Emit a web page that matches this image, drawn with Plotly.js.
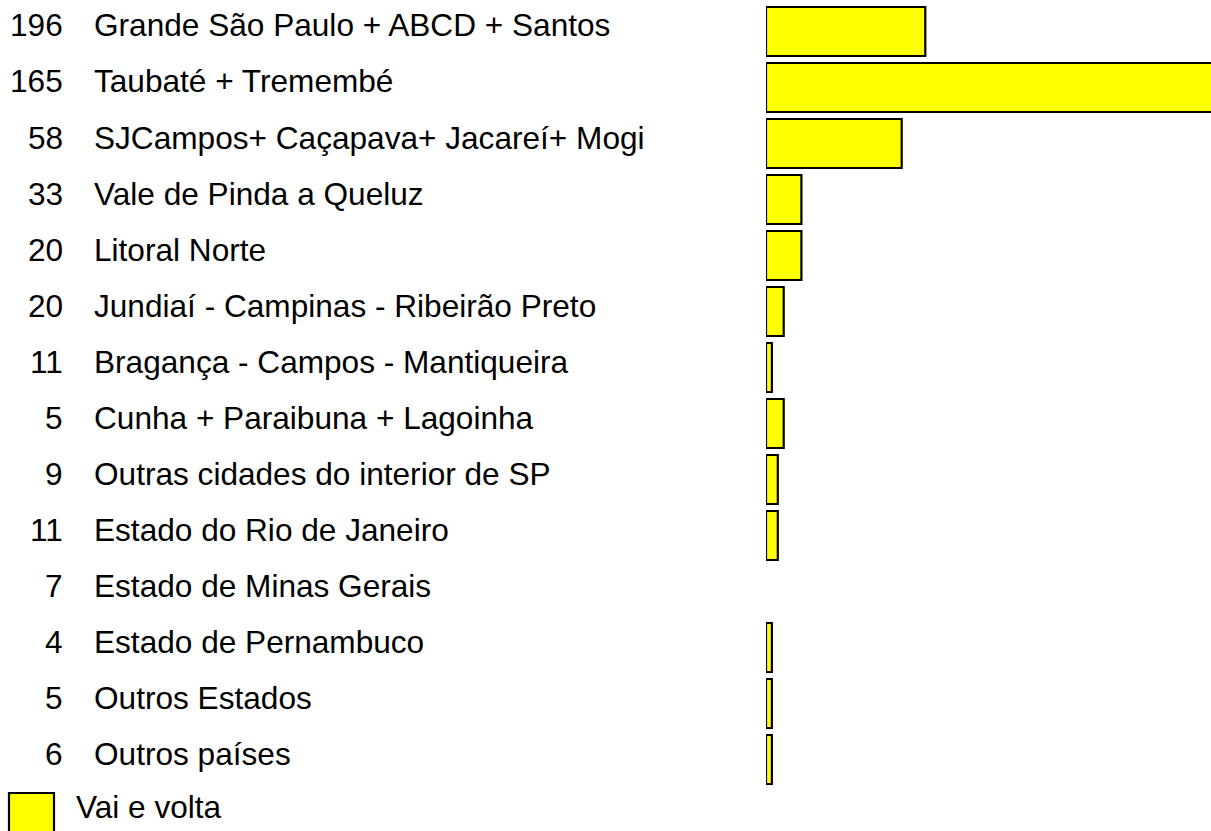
<!DOCTYPE html>
<html>
<head>
<meta charset="utf-8">
<script src="https://cdn.plot.ly/plotly-3.0.1.min.js"></script>
<style>html,body{margin:0;padding:0;background:#fff;}#chart{width:1211px;height:831px;}</style>
</head>
<body>
<div id="chart"></div>
<script>
// Category names (top to bottom)
const categories = [
  "Grande São Paulo + ABCD + Santos",
  "Taubaté + Tremembé",
  "SJCampos+ Caçapava+ Jacareí+ Mogi",
  "Vale de Pinda a Queluz",
  "Litoral Norte",
  "Jundiaí - Campinas - Ribeirão Preto",
  "Bragança - Campos - Mantiqueira",
  "Cunha + Paraibuna + Lagoinha",
  "Outras cidades do interior de SP",
  "Estado do Rio de Janeiro",
  "Estado de Minas Gerais",
  "Estado de Pernambuco",
  "Outros Estados",
  "Outros países"
];
// Numbers printed beside each category
const countLabels = [196, 165, 58, 33, 20, 20, 11, 5, 9, 11, 7, 4, 5, 6];
// Bar lengths ("Vai e volta")
const vaiEVolta = [27, 80, 23, 6, 6, 3, 1, 3, 2, 2, 0, 1, 1, 1];
const seriesName = "Vai e volta";

const W = 1211, H = 831;
const FONT = "Liberation Sans, Arial, Helvetica, sans-serif";
const FS = 31.6;

const trace = {
  type: "bar",
  orientation: "h",
  y: categories,
  x: vaiEVolta,
  name: seriesName,
  marker: {
    color: "#ffff00",
    line: {color: "#000000", width: vaiEVolta.map(v => v > 0 ? 2.2 : 0)}
  },
  hoverinfo: "x+y",
  showlegend: false
};

const annotations = [];
categories.forEach((c, i) => {
  annotations.push({
    xref: "paper", yref: "y", x: 65 / W, y: c,
    text: String(countLabels[i]), showarrow: false,
    xanchor: "right", yanchor: "middle", yshift: 6,
    font: {family: FONT, size: FS, color: "#000"}
  });
  annotations.push({
    xref: "paper", yref: "y", x: 92 / W, y: c,
    text: c, showarrow: false,
    xanchor: "left", yanchor: "middle", yshift: 6,
    font: {family: FONT, size: FS, color: "#000"}
  });
});
annotations.push({
  xref: "paper", yref: "paper", x: 74 / W, y: 1 - 807 / H,
  text: seriesName, showarrow: false,
  xanchor: "left", yanchor: "middle",
  font: {family: FONT, size: FS, color: "#000"}
});

const layout = {
  width: W, height: H,
  margin: {l: 0, r: 0, t: 0, b: 0, pad: 0, autoexpand: false},
  paper_bgcolor: "#fff", plot_bgcolor: "#fff",
  showlegend: false,
  bargap: 0.125,
  xaxis: {domain: [766 / W, 1], range: [0, 445 / 5.9], visible: false, fixedrange: true},
  yaxis: {domain: [1 - 787.5 / H, 1 - 3.5 / H], type: "category",
          range: [categories.length - 0.5, -0.5], visible: false, fixedrange: true},
  annotations: annotations,
  shapes: [{
    type: "rect", xref: "paper", yref: "paper",
    x0: 9 / W, x1: 54 / W, y0: 1 - 793 / H, y1: -0.02,
    fillcolor: "#ffff00", line: {color: "#000", width: 2.2}
  }],
  font: {family: FONT, size: FS, color: "#000"}
};

Plotly.newPlot("chart", [trace], layout, {displayModeBar: false, staticPlot: true});
</script>
</body>
</html>
